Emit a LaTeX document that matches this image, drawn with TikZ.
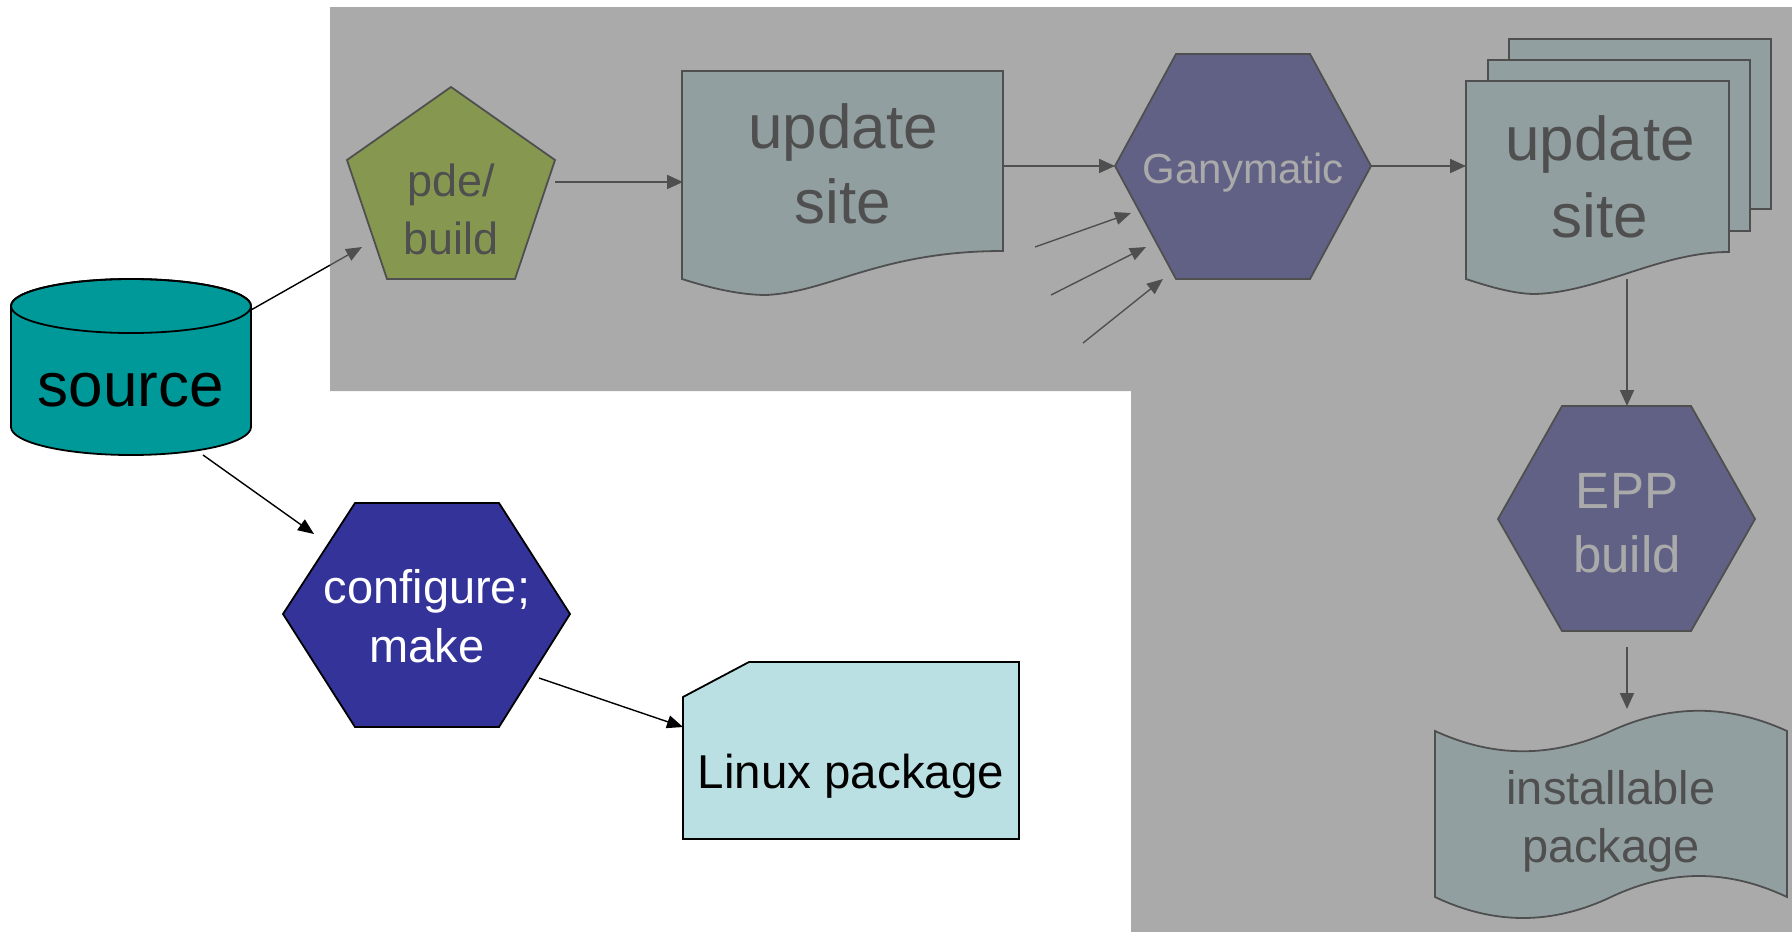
\documentclass[tikz,border=0pt]{standalone}
\usepackage{fontspec}
\setmainfont{Liberation Sans}
\usetikzlibrary{arrows.meta}
\definecolor{srcteal}{RGB}{0,153,153}
\definecolor{navyhex}{RGB}{51,51,153}
\definecolor{paleblue}{RGB}{187,224,227}
\definecolor{limefill}{RGB}{153,204,0}
\definecolor{veil}{RGB}{124,124,124}
\begin{document}
\begin{tikzpicture}[x=1pt,y=-1pt,
  shp/.style={draw=black,line width=1.8pt,line join=miter},
  arr/.style={-{Triangle[length=16pt,width=14pt]},line width=1.9pt,black},
  thinarr/.style={-{Triangle[length=16pt,width=13pt]},line width=1.4pt,black},
  lbl/.style={inner sep=0pt,anchor=base}]
\useasboundingbox (0,0) rectangle (1792,932);
\fill[white] (0,0) rectangle (1792,932);

% ---------- source cylinder ----------
\path[shp,fill=srcteal] (11,306) -- (11,427)
  arc[start angle=180,end angle=360,x radius=120pt,y radius=28pt]
  -- (251,306) arc[start angle=0,end angle=180,x radius=120pt,y radius=27pt] -- cycle;
\draw[shp] (131,306) ellipse[x radius=120pt,y radius=27pt];
\node[lbl] (srcT) at (131,406) {\fontsize{62}{75}\selectfont source};

% ---------- pde/build pentagon ----------
\path[shp,fill=limefill] (451,87) -- (555,160) -- (515,279) -- (387,279) -- (347,160) -- cycle;
\node[lbl] (pdeT) at (451,196) {\fontsize{45}{58}\selectfont\begin{tabular}[t]{@{}c@{}}pde/\\build\end{tabular}};

% ---------- update site document ----------
\path[shp,fill=paleblue] (682,71) -- (1003,71) -- (1003,251)
  .. controls (880,251) and (830,292) .. (766,295)
  .. controls (740,295) and (710,288) .. (682,279) -- cycle;
\node[lbl] (updT) at (843,148) {\fontsize{62}{75}\selectfont\begin{tabular}[t]{@{}c@{}}update\\site\end{tabular}};

% ---------- Ganymatic hexagon ----------
\path[shp,fill=navyhex] (1176,54) -- (1310,54) -- (1371,166) -- (1310,279) -- (1176,279) -- (1115,166) -- cycle;
\node[lbl,text=white] (ganT) at (1243,183) {\fontsize{42}{50}\selectfont Ganymatic};

% ---------- stacked update site documents ----------
\path[shp,fill=paleblue] (1509,39) rectangle (1771,209);
\path[shp,fill=paleblue] (1488,60) rectangle (1750,231);
\path[shp,fill=paleblue] (1466,81) -- (1729,81) -- (1729,252)
  .. controls (1660,252) and (1600,292) .. (1535,294)
  .. controls (1515,294) and (1490,287) .. (1466,279) -- cycle;
\node[lbl] (stkT) at (1600,160) {\fontsize{62}{77}\selectfont\begin{tabular}[t]{@{}c@{}}update\\site\end{tabular}};

% ---------- EPP build hexagon ----------
\path[shp,fill=navyhex] (1562,406) -- (1691,406) -- (1755,519) -- (1691,631) -- (1562,631) -- (1498,519) -- cycle;
\node[lbl,text=white] (eppT) at (1627,508) {\fontsize{51}{64}\selectfont\begin{tabular}[t]{@{}c@{}}EPP\\build\end{tabular}};

% ---------- installable package (punched tape) ----------
\path[shp,fill=paleblue] (1435,731)
  .. controls (1494,758) and (1552,758) .. (1611,731)
  .. controls (1670,704) and (1728,704) .. (1787,731)
  -- (1787,897)
  .. controls (1728,869) and (1670,869) .. (1611,897)
  .. controls (1552,925) and (1494,925) .. (1435,897) -- cycle;
\node[lbl] (instT) at (1611,804) {\fontsize{47}{58}\selectfont\begin{tabular}[t]{@{}c@{}}installable\\package\end{tabular}};

% ---------- configure; make hexagon ----------
\path[shp,fill=navyhex] (355,503) -- (499,503) -- (570,614) -- (499,727) -- (355,727) -- (283,614) -- cycle;
\node[lbl,text=white] (cfgT) at (427,603) {\fontsize{47}{59}\selectfont\begin{tabular}[t]{@{}c@{}}configure;\\make\end{tabular}};

% ---------- Linux package ----------
\path[shp,fill=paleblue] (683,697) -- (749,662) -- (1019,662) -- (1019,839) -- (683,839) -- cycle;
\node[lbl] (linT) at (851,788) {\fontsize{47.5}{57}\selectfont Linux package};

% ---------- connector end points ----------
\coordinate (srcNE) at (251,310);
\coordinate (pdeIn) at (362,247);
\coordinate (pdeOut) at (555,182);
\coordinate (updIn) at (683,182);
\coordinate (updOut) at (1003,166);
\coordinate (ganIn) at (1115,166);
\coordinate (ganOut) at (1371,166);
\coordinate (stkIn) at (1466,166);
\coordinate (stkOut) at (1627,279);
\coordinate (eppIn) at (1627,406);
\coordinate (eppOut) at (1627,647);
\coordinate (instIn) at (1627,709);
\coordinate (srcS) at (203,455);
\coordinate (cfgIn) at (314,534);
\coordinate (cfgOut) at (539,678);
\coordinate (linIn) at (683,727);
\coordinate (f1s) at (1035,247);
\coordinate (f1e) at (1131,213);
\coordinate (f2s) at (1051,295);
\coordinate (f2e) at (1146,247);
\coordinate (f3s) at (1083,343);
\coordinate (f3e) at (1163,279);

% ---------- connectors ----------
\draw[thinarr] (srcNE) -- (pdeIn);
\draw[arr] (pdeOut) -- (updIn);
\draw[arr] (updOut) -- (ganIn);
\draw[arr] (ganOut) -- (stkIn);
\draw[arr] (stkOut) -- (eppIn);
\draw[arr] (eppOut) -- (instIn);
\draw[thinarr] (f1s) -- (f1e);
\draw[thinarr] (f2s) -- (f2e);
\draw[thinarr] (f3s) -- (f3e);
\draw[thinarr] (srcS) -- (cfgIn);
\draw[thinarr] (cfgOut) -- (linIn);

% ---------- translucent grey veil ----------
\fill[veil,fill opacity=0.645] (330,7) -- (1792,7) -- (1792,932) -- (1131,932) -- (1131,391) -- (330,391) -- cycle;
\end{tikzpicture}
\end{document}
